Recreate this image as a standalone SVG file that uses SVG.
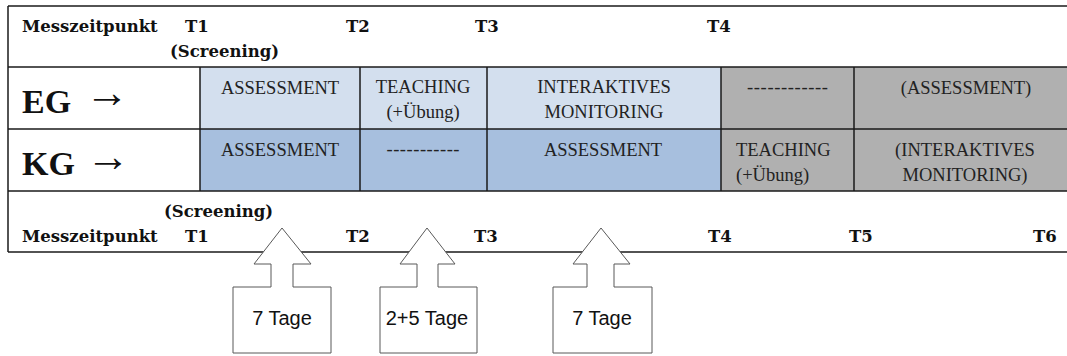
<svg xmlns="http://www.w3.org/2000/svg" width="1067" height="356" viewBox="0 0 1067 356">
<style>
.b{font-family:"DejaVu Serif","Liberation Serif",serif;font-weight:bold;font-size:16.5px;fill:#111}
.r{font-family:"Liberation Serif","DejaVu Serif",serif;font-size:18.5px;fill:#222}
.c{text-anchor:middle}
.big{font-family:"Liberation Serif","DejaVu Serif",serif;font-weight:bold;font-size:34px;fill:#111}
.arw{font-family:"Liberation Serif","DejaVu Serif",serif;font-weight:bold;font-size:44px;fill:#111}
.eg{fill:#D3DFEE}
.kg{fill:#A7BFDE}
.gr{fill:#B0B0B0}
.ln{stroke:#1a1a1a;stroke-width:1.5;fill:none}
.ar{fill:#fff;stroke:#595959;stroke-width:1}
.t{font-family:"Liberation Sans",Arial,sans-serif;font-size:20px;fill:#111;text-anchor:middle}
</style>
<rect width="1067" height="356" fill="#fff"/>
<g id="cells">
<rect class="eg" x="200" y="67" width="521" height="62"/>
<rect class="gr" x="721" y="67" width="346" height="62"/>
<rect class="kg" x="200" y="129" width="521" height="62"/>
<rect class="gr" x="721" y="129" width="346" height="62"/>
</g>
<g id="grid">
<line class="ln" x1="8" y1="6" x2="1067" y2="6"/>
<line class="ln" x1="8" y1="67" x2="1067" y2="67"/>
<line class="ln" x1="8" y1="129" x2="1067" y2="129"/>
<line class="ln" x1="8" y1="191" x2="1067" y2="191"/>
<line class="ln" x1="8" y1="252" x2="1067" y2="252"/>
<line class="ln" x1="8" y1="6" x2="8" y2="252"/>
<line class="ln" x1="200" y1="67" x2="200" y2="191"/>
<line class="ln" x1="360" y1="67" x2="360" y2="191"/>
<line class="ln" x1="487" y1="67" x2="487" y2="191"/>
<line class="ln" x1="721" y1="67" x2="721" y2="191"/>
<line class="ln" x1="854" y1="67" x2="854" y2="191"/>
</g>
<g id="header-top">
<text class="b" x="22" y="32">Messzeitpunkt</text>
<text class="b" x="185" y="32">T1</text>
<text class="b" x="170" y="57">(Screening)</text>
<text class="b" x="346" y="32">T2</text>
<text class="b" x="475" y="32">T3</text>
<text class="b" x="707" y="32">T4</text>
</g>
<g id="row-eg">
<text class="big" x="22" y="113">EG</text>
<text class="arw" x="85" y="107">→</text>
<text class="r c" x="280" y="94">ASSESSMENT</text>
<text class="r c" x="423" y="93">TEACHING</text>
<text class="r c" x="423" y="118">(+Übung)</text>
<text class="r c" x="604" y="93">INTERAKTIVES</text>
<text class="r c" x="604" y="118">MONITORING</text>
<text class="r c" x="787.5" y="93" textLength="81">------------</text>
<text class="r c" x="966" y="94">(ASSESSMENT)</text>
</g>
<g id="row-kg">
<text class="big" x="22" y="175">KG</text>
<text class="arw" x="86" y="171">→</text>
<text class="r c" x="280" y="156">ASSESSMENT</text>
<text class="r c" x="423" y="155" textLength="73">-----------</text>
<text class="r c" x="603" y="156">ASSESSMENT</text>
<text class="r" x="736" y="156">TEACHING</text>
<text class="r" x="736" y="181">(+Übung)</text>
<text class="r c" x="965" y="156">(INTERAKTIVES</text>
<text class="r c" x="965" y="181">MONITORING)</text>
</g>
<g id="header-bottom">
<text class="b" x="164" y="217">(Screening)</text>
<text class="b" x="22" y="242">Messzeitpunkt</text>
<text class="b" x="185" y="242">T1</text>
<text class="b" x="346" y="242">T2</text>
<text class="b" x="474" y="242">T3</text>
<text class="b" x="708" y="242">T4</text>
<text class="b" x="849" y="242">T5</text>
<text class="b" x="1033" y="242">T6</text>
</g>
<g id="arrow1">
<polygon class="ar" points="282,228 311,264 293,264 293,287 331,287 331,353 233,353 233,287 271,287 271,264 254,264"/>
<text class="t" x="282" y="325">7 Tage</text>
</g>
<g id="arrow2">
<polygon class="ar" points="427,228 455,264 438,264 438,287 477,287 477,353 380,353 380,287 417,287 417,264 400,264"/>
<text class="t" x="427" y="325">2+5 Tage</text>
</g>
<g id="arrow3">
<polygon class="ar" points="601,228 630,264 614,264 614,287 652,287 652,353 553,353 553,287 587,287 587,264 573,264"/>
<text class="t" x="602" y="325">7 Tage</text>
</g>
<g id="connectors"></g>
</svg>
